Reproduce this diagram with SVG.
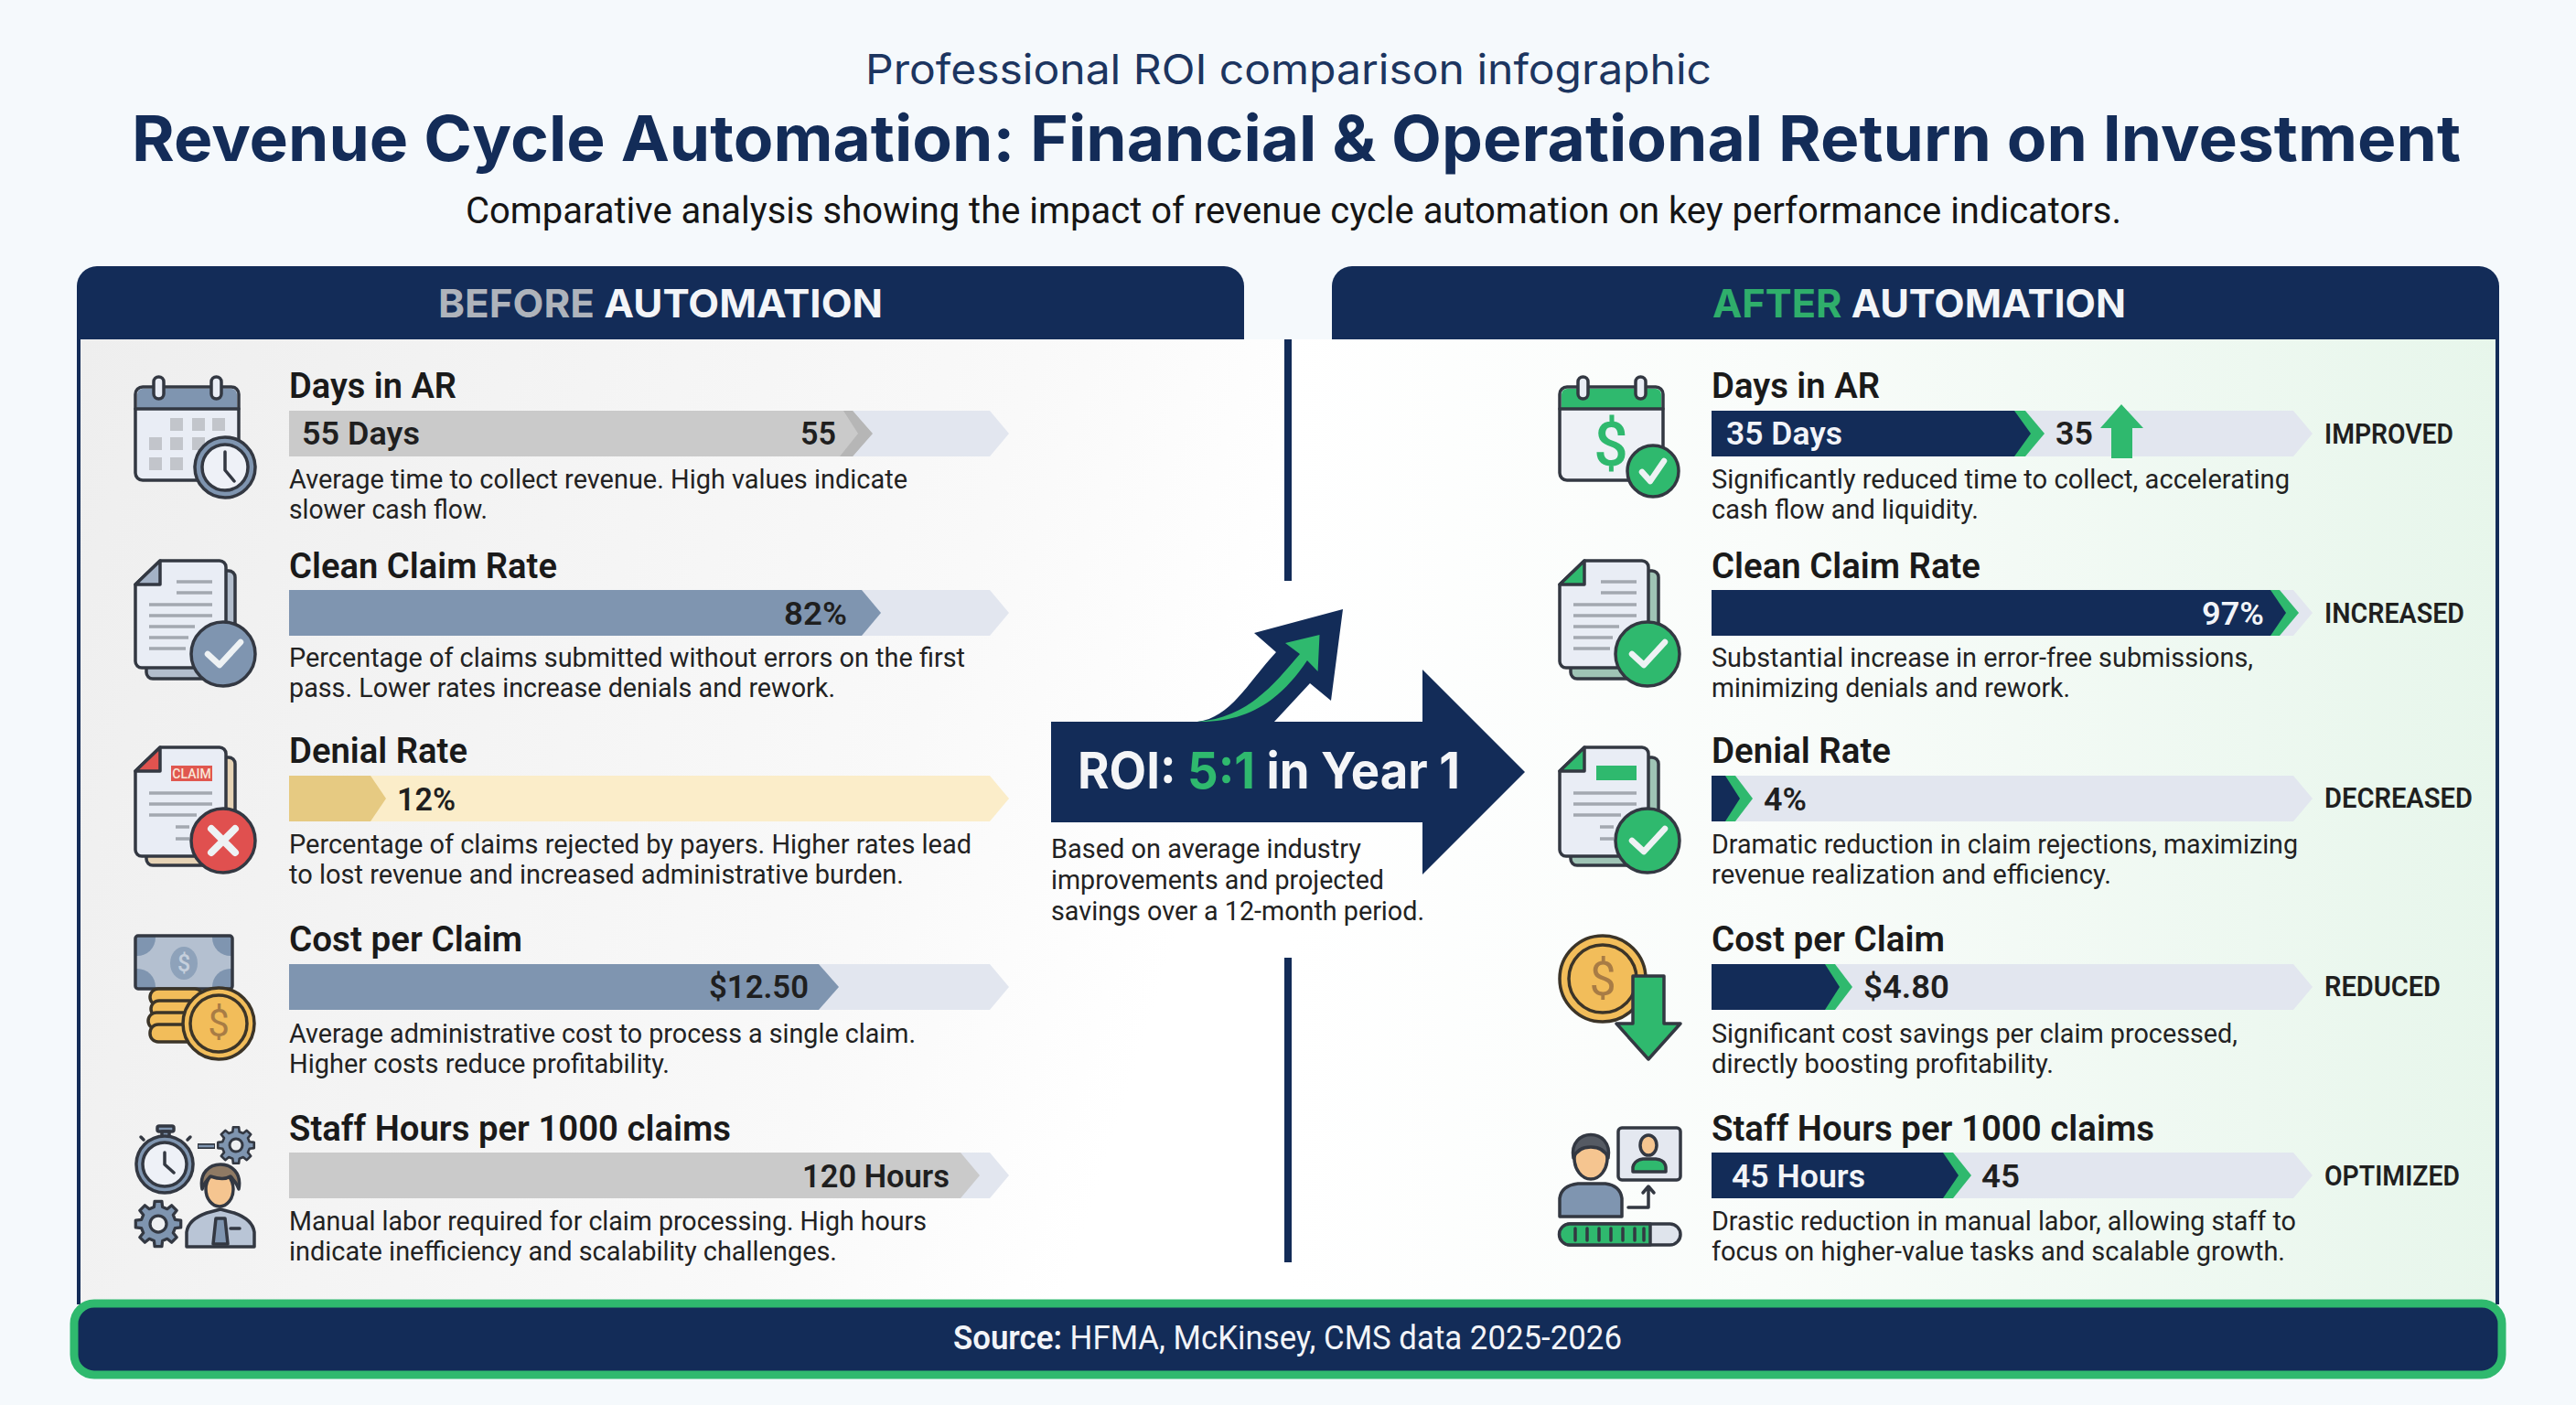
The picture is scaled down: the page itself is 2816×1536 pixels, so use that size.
<svg xmlns="http://www.w3.org/2000/svg" width="2816" height="1536" viewBox="0 0 2816 1536">
<style>
text{font-family:Roboto,"Liberation Sans",sans-serif}
.h1{font-family:Inter,"Liberation Sans",sans-serif;font-weight:700;font-size:69px;fill:#132c58}
.h0{font-family:Inter,"Liberation Sans",sans-serif;font-weight:400;font-size:45px;fill:#1c3560}
.h2{font-size:41px;fill:#151515}
.hd{font-family:Inter,"Liberation Sans",sans-serif;font-weight:700;font-size:43px;fill:#f3f5f8}
.t{font-weight:600;font-size:39px;fill:#1a1a1a}
.b{font-size:30px;fill:#222}
.v{font-weight:600;font-size:35px;fill:#1f1f1f}
.w{font-weight:600;font-size:35px;fill:#f2f4f8}
.l{font-weight:600;font-size:31px;fill:#1f1f1f}
.nv{fill:#132c58}.gr{fill:#2fb96e}.tr{fill:#e2e6ef}.sl{fill:#7f95b0}.gy{fill:#cacaca}
.ol{stroke:#333842;stroke-width:3.500;stroke-linejoin:round;stroke-linecap:round}
.ln{stroke:#a3a8b0;stroke-width:3.500;fill:none}
.ck{fill:none;stroke:#eef2f4;stroke-width:6.500;stroke-linecap:round;stroke-linejoin:round}
.pg{fill:#e9edf5}
.gd{fill:#7f95b0;stroke:#333842;stroke-width:13;stroke-linejoin:round}
.cn{stroke:#3b3428;stroke-width:3.500}
</style>
<defs>
<linearGradient id="lg" x1="0" y1="0" x2="1" y2="0.25"><stop offset="0" stop-color="#eeeeee"/><stop offset="0.75" stop-color="#f9f9f9"/><stop offset="1" stop-color="#ffffff"/></linearGradient>
<linearGradient id="rg" x1="0" y1="0" x2="1" y2="0"><stop offset="0" stop-color="#ffffff"/><stop offset="0.4" stop-color="#f9fcfa"/><stop offset="1" stop-color="#e7f6eb"/></linearGradient>
<polygon id="trackL" points="316,0 1082,0 1103,25 1082,50 316,50"/>
<polygon id="trackR" points="1871,0 2507,0 2528,25 2507,50 1871,50"/>
<path id="lines" class="ln" d="M193,636H232M193,648H232M163,661H232M163,673H232M163,685H213M163,697H206M163,709H203"/>
<path id="lines2" class="ln" d="M163,867H232M163,879H232M163,891H215M192,904H207M192,917H207"/>
<polygon id="gear" points="73.700,-18.400 98.800,-15.600 98.800,15.600 73.700,18.400 65.100,39.100 80.900,58.800 58.800,80.900 39.100,65.100 18.400,73.700 15.600,98.800 -15.600,98.800 -18.400,73.700 -39.100,65.100 -58.800,80.900 -80.900,58.800 -65.100,39.100 -73.700,18.400 -98.800,15.600 -98.800,-15.600 -73.700,-18.400 -65.100,-39.100 -80.900,-58.800 -58.800,-80.900 -39.100,-65.100 -18.400,-73.700 -15.600,-98.800 15.600,-98.800 18.400,-73.700 39.100,-65.100 58.800,-80.900 80.900,-58.800 65.100,-39.100"/>
<clipPath id="noteClip"><rect x="149" y="1024" width="104" height="56"/></clipPath>
</defs>
<rect width="2816" height="1536" fill="#f5f9fc"/>

<g id="header">
<text class="h0" x="946" y="92" textLength="925" lengthAdjust="spacingAndGlyphs">Professional ROI comparison infographic</text>
<text class="h1" x="144" y="176" textLength="2546" lengthAdjust="spacingAndGlyphs">Revenue Cycle Automation: Financial &amp; Operational Return on Investment</text>
<text class="h2" x="509" y="244" textLength="1810" lengthAdjust="spacingAndGlyphs">Comparative analysis showing the impact of revenue cycle automation on key performance indicators.</text>
</g>

<g id="panel-before">
<rect x="84" y="371" width="1324" height="1060" fill="url(#lg)"/>
<path class="nv" d="M84,371V313a22,22 0 0 1 22,-22H1338a22,22 0 0 1 22,22V371Z"/>
<rect class="nv" x="84" y="371" width="4" height="1055"/>
<text class="hd" x="479" y="347" textLength="486" lengthAdjust="spacingAndGlyphs"><tspan fill="#aeb3bb">BEFORE</tspan> AUTOMATION</text>
</g>
<g id="panel-after">
<rect x="1408" y="371" width="1324" height="1060" fill="url(#rg)"/>
<path class="nv" d="M1456,371V313a22,22 0 0 1 22,-22H2710a22,22 0 0 1 22,22V371Z"/>
<rect class="nv" x="2728" y="371" width="4" height="1055"/>
<text class="hd" x="1872" y="347" textLength="452" lengthAdjust="spacingAndGlyphs"><tspan fill="#2fae6b">AFTER</tspan> AUTOMATION</text>
</g>

<g id="connectors">
<rect class="nv" x="1404" y="371" width="8" height="264"/>
<rect class="nv" x="1404" y="1047" width="8" height="333"/>
</g>

<!-- BEFORE rows -->
<g id="before-days">
<rect class="pg ol" x="148" y="423" width="113" height="102" rx="8"/>
<path class="sl" d="M150,447V431a6,6 0 0 1 6,-6H253a6,6 0 0 1 6,6V447Z"/>
<path class="ol" d="M148,447H261" fill="none"/>
<rect x="168" y="412" width="11" height="24" rx="5.500" fill="#e9edf5" class="ol"/><rect x="231" y="412" width="11" height="24" rx="5.500" fill="#e9edf5" class="ol"/>
<path fill="#c2c5cb" d="M186,457h14v14h-14zM210,457h14v14h-14zM232,457h14v14h-14zM163,478h14v14h-14zM186,478h14v14h-14zM210,478h14v14h-14zM163,500h14v14h-14zM186,500h14v14h-14z"/>
<circle cx="246" cy="511" r="33" fill="#7f95b0" class="ol"/><circle cx="246" cy="511" r="25" fill="#eef1f7" class="ol"/>
<path class="ol" fill="none" d="M246,494V514L256,526"/>
<text class="t" x="316" y="435" textLength="183" lengthAdjust="spacingAndGlyphs">Days in AR</text>
<g transform="translate(0,449)"><use href="#trackL" class="tr"/><polygon class="gy" points="316,0 932,0 953,25 932,50 316,50"/><polygon fill="#b6b6b6" points="922,0 932,0 954,25 932,50 918,50 938,25"/></g>
<text class="v" x="330" y="486" textLength="129" lengthAdjust="spacingAndGlyphs">55 Days</text>
<text class="v" x="875" y="486" textLength="39" lengthAdjust="spacingAndGlyphs">55</text>
<text class="b" x="316" y="534" textLength="676" lengthAdjust="spacingAndGlyphs">Average time to collect revenue. High values indicate</text>
<text class="b" x="316" y="567" textLength="217" lengthAdjust="spacingAndGlyphs">slower cash flow.</text>
</g>

<g id="before-clean">
<rect x="160" y="624" width="97" height="118" rx="7" fill="#b2bdcc" class="ol"/>
<path class="pg ol" d="M175,613H240a7,7 0 0 1 7,7V723a7,7 0 0 1 -7,7H155a7,7 0 0 1 -7,-7V639Z"/>
<path class="ol" fill="#a4b2c6" d="M175,613V639H148Z"/>
<use href="#lines"/>
<circle cx="244" cy="715" r="35" class="sl ol"/>
<path class="ck" d="M227,715L240,727L263,702"/>
<text class="t" x="316" y="632" textLength="293" lengthAdjust="spacingAndGlyphs">Clean Claim Rate</text>
<g transform="translate(0,645)"><use href="#trackL" class="tr"/><polygon class="sl" points="316,0 942,0 963,25 942,50 316,50"/></g>
<text class="v" x="857" y="683" textLength="69" lengthAdjust="spacingAndGlyphs">82%</text>
<text class="b" x="316" y="729" textLength="739" lengthAdjust="spacingAndGlyphs">Percentage of claims submitted without errors on the first</text>
<text class="b" x="316" y="762" textLength="597" lengthAdjust="spacingAndGlyphs">pass. Lower rates increase denials and rework.</text>
</g>

<g id="before-denial">
<rect x="160" y="828" width="97" height="118" rx="7" fill="#e6d3b5" class="ol"/>
<path class="pg ol" d="M175,817H240a7,7 0 0 1 7,7V929a7,7 0 0 1 -7,7H155a7,7 0 0 1 -7,-7V843Z"/>
<path class="ol" fill="#e0534f" d="M175,817V843H148Z"/>
<rect x="187" y="837" width="45" height="17" fill="#e0574f"/>
<text x="209.500" y="850.500" text-anchor="middle" font-size="14" font-weight="500" fill="#f8e6d8">CLAIM</text>
<use href="#lines2"/>
<circle cx="244" cy="919" r="35" fill="#e0504f" class="ol"/>
<path class="ck" style="stroke-width:8" d="M231,906L257,932M257,906L231,932"/>
<text class="t" x="316" y="834" textLength="195" lengthAdjust="spacingAndGlyphs">Denial Rate</text>
<g transform="translate(0,848)"><use href="#trackL" fill="#fbedc9"/><polygon fill="#e6ca82" points="316,0 405,0 422,25 405,50 316,50"/></g>
<text class="v" x="434" y="886" textLength="64" lengthAdjust="spacingAndGlyphs">12%</text>
<text class="b" x="316" y="933" textLength="746" lengthAdjust="spacingAndGlyphs">Percentage of claims rejected by payers. Higher rates lead</text>
<text class="b" x="316" y="966" textLength="672" lengthAdjust="spacingAndGlyphs">to lost revenue and increased administrative burden.</text>
</g>

<g id="before-cost">
<rect x="148" y="1023" width="106" height="58" rx="3" fill="#b4c0d0"/>
<g clip-path="url(#noteClip)" fill="#7f95b0"><circle cx="150" cy="1025" r="20"/><circle cx="252" cy="1025" r="20"/><circle cx="150" cy="1079" r="20"/><circle cx="252" cy="1079" r="20"/></g>
<rect x="148" y="1023" width="106" height="58" rx="3" fill="none" class="ol"/>
<ellipse cx="201" cy="1053" rx="15" ry="18" fill="#8ea2ba"/>
<text x="201" y="1062" text-anchor="middle" font-size="25" font-weight="500" fill="#c5cfdc">$</text>
<g class="cn" fill="#f2bd5a"><rect x="164" y="1081" width="58" height="18" rx="9"/><rect x="165" y="1094" width="58" height="18" rx="9"/><rect x="162" y="1107" width="58" height="18" rx="9"/><rect x="164" y="1120" width="58" height="19" rx="9"/></g>
<circle cx="239" cy="1119" r="39" fill="#f2bd5a" class="cn"/><circle cx="239" cy="1119" r="31" fill="none" class="cn"/>
<text x="239" y="1133" text-anchor="middle" font-size="42" font-weight="400" fill="#a87c45">$</text>
<text class="t" x="316" y="1040" textLength="255" lengthAdjust="spacingAndGlyphs">Cost per Claim</text>
<g transform="translate(0,1054)"><use href="#trackL" class="tr"/><polygon class="sl" points="316,0 895,0 917,25 895,50 316,50"/></g>
<text class="v" x="775" y="1091" textLength="109" lengthAdjust="spacingAndGlyphs">$12.50</text>
<text class="b" x="316" y="1140" textLength="685" lengthAdjust="spacingAndGlyphs">Average administrative cost to process a single claim.</text>
<text class="b" x="316" y="1173" textLength="416" lengthAdjust="spacingAndGlyphs">Higher costs reduce profitability.</text>
</g>

<g id="before-staff">
<rect x="172" y="1231" width="18" height="6" rx="2" class="sl ol"/><rect x="177" y="1237" width="8" height="6" class="sl ol"/>
<path class="ol" fill="none" d="M157,1246L154,1243M205,1246L208,1243"/>
<circle cx="180" cy="1273" r="31" fill="#7f95b0" class="ol"/><circle cx="180" cy="1273" r="24" fill="#eef1f7" class="ol"/>
<path class="ol" fill="none" d="M180,1260V1273L190,1282"/>
<path d="M216,1253H235" stroke="#333842" stroke-width="6"/><path d="M217,1253H234" stroke="#7f95b0" stroke-width="2.500"/>
<g transform="translate(258,1252) scale(.2)"><use href="#gear" class="gd"/><circle r="35" fill="#eef0f2" stroke="#333842" stroke-width="15"/></g>
<g transform="translate(173,1338) scale(.25)"><use href="#gear" class="gd"/><circle r="36" fill="#eef0f2" stroke="#333842" stroke-width="13"/></g>
<path class="ol" fill="#b9c5d6" d="M204,1363V1347Q206,1333 226,1326L241,1322L256,1326Q276,1333 278,1347V1363Z"/>
<path fill="#7f95b0" class="ol" d="M236,1332H246L249,1360H233Z"/>
<path class="ol" fill="none" d="M252,1343H262"/>
<ellipse cx="240" cy="1300" rx="15" ry="19" fill="#f5c590" class="ol"/>
<path fill="#8f7a64" class="ol" d="M221,1300C214,1264 268,1264 261,1300C258,1292 254,1288 252,1286C246,1290 236,1288 230,1286C226,1290 223,1294 221,1300Z"/>
<text class="t" x="316" y="1247" textLength="483" lengthAdjust="spacingAndGlyphs">Staff Hours per 1000 claims</text>
<g transform="translate(0,1260)"><use href="#trackL" class="tr"/><polygon class="gy" points="316,0 1050,0 1071,25 1050,50 316,50"/></g>
<text class="v" x="877" y="1298" textLength="161" lengthAdjust="spacingAndGlyphs">120 Hours</text>
<text class="b" x="316" y="1345" textLength="697" lengthAdjust="spacingAndGlyphs">Manual labor required for claim processing. High hours</text>
<text class="b" x="316" y="1378" textLength="599" lengthAdjust="spacingAndGlyphs">indicate inefficiency and scalability challenges.</text>
</g>

<!-- ROI -->
<g id="roi">
<path class="nv" d="M1149,789H1309C1345,785 1365,745 1395,713L1371,692L1468,666L1455,766L1432,747L1393,789H1555V732L1667,844L1555,956V899H1149Z"/>
<path class="gr" d="M1309,789C1365,785 1395,745 1421,715L1405,703L1442.500,694L1440.600,734L1429,722C1400,765 1365,790 1309,789Z"/>
<text x="1178" y="862" textLength="418" lengthAdjust="spacingAndGlyphs" style="font-family:Inter,'Liberation Sans',sans-serif;font-weight:700;font-size:55px;fill:#f4f5f7">ROI: <tspan fill="#2fb96e">5:1</tspan> in Year 1</text>
<text class="b" x="1149" y="938" textLength="339" lengthAdjust="spacingAndGlyphs">Based on average industry</text>
<text class="b" x="1149" y="972" textLength="364" lengthAdjust="spacingAndGlyphs">improvements and projected</text>
<text class="b" x="1149" y="1006" textLength="408" lengthAdjust="spacingAndGlyphs">savings over a 12-month period.</text>
</g>

<!-- AFTER rows -->
<g id="after-days">
<rect x="1705" y="423" width="113" height="102" rx="8" fill="#eef1f6" class="ol"/>
<path class="gr" d="M1707,447V431a6,6 0 0 1 6,-6H1810a6,6 0 0 1 6,6V447Z"/>
<path class="ol" fill="none" d="M1705,447H1818"/>
<rect x="1725" y="412" width="11" height="24" rx="5.500" fill="#e9edf5" class="ol"/><rect x="1788" y="412" width="11" height="24" rx="5.500" fill="#e9edf5" class="ol"/>
<text x="1761" y="509" text-anchor="middle" font-size="66" font-weight="500" fill="#2fb96e">$</text>
<circle cx="1807" cy="515" r="28" class="gr ol"/>
<path class="ck" d="M1795,516L1804,526L1819,504"/>
<text class="t" x="1871" y="435" textLength="184" lengthAdjust="spacingAndGlyphs">Days in AR</text>
<g transform="translate(0,449)"><use href="#trackR" class="tr"/><polygon class="gr" points="2202,0 2214,0 2235,25 2214,50 2202,50"/><polygon class="nv" points="1871,0 2202,0 2220,25 2202,50 1871,50"/></g>
<path class="gr" d="M2319,442L2343,468H2331V501H2308V468H2296Z"/>
<text class="w" x="1887" y="486" textLength="127" lengthAdjust="spacingAndGlyphs">35 Days</text>
<text class="v" x="2247" y="486" textLength="41" lengthAdjust="spacingAndGlyphs">35</text>
<text class="l" x="2541" y="485" textLength="141" lengthAdjust="spacingAndGlyphs">IMPROVED</text>
<text class="b" x="1871" y="534" textLength="632" lengthAdjust="spacingAndGlyphs">Significantly reduced time to collect, accelerating</text>
<text class="b" x="1871" y="567" textLength="292" lengthAdjust="spacingAndGlyphs">cash flow and liquidity.</text>
</g>

<g id="after-clean">
<rect x="1717" y="624" width="96" height="118" rx="7" fill="#9fc4b5" class="ol"/>
<path class="pg ol" d="M1732,613H1795a7,7 0 0 1 7,7V723a7,7 0 0 1 -7,7H1712a7,7 0 0 1 -7,-7V639Z"/>
<path class="gr ol" d="M1732,613V639H1705Z"/>
<use href="#lines" transform="translate(1557,0)"/>
<circle cx="1801" cy="715" r="35" class="gr ol"/>
<path class="ck" d="M1784,715L1797,727L1820,702"/>
<text class="t" x="1871" y="632" textLength="294" lengthAdjust="spacingAndGlyphs">Clean Claim Rate</text>
<g transform="translate(0,645)"><use href="#trackR" class="tr"/><polygon class="gr" points="2482,0 2492,0 2513,25 2492,50 2482,50"/><polygon class="nv" points="1871,0 2482,0 2499,25 2482,50 1871,50"/></g>
<text class="w" x="2407" y="683" textLength="68" lengthAdjust="spacingAndGlyphs">97%</text>
<text class="l" x="2541" y="681" textLength="153" lengthAdjust="spacingAndGlyphs">INCREASED</text>
<text class="b" x="1871" y="729" textLength="592" lengthAdjust="spacingAndGlyphs">Substantial increase in error-free submissions,</text>
<text class="b" x="1871" y="762" textLength="392" lengthAdjust="spacingAndGlyphs">minimizing denials and rework.</text>
</g>

<g id="after-denial">
<rect x="1717" y="828" width="96" height="118" rx="7" fill="#9fc4b5" class="ol"/>
<path class="pg ol" d="M1732,817H1795a7,7 0 0 1 7,7V929a7,7 0 0 1 -7,7H1712a7,7 0 0 1 -7,-7V843Z"/>
<path class="gr ol" d="M1732,817V843H1705Z"/>
<rect class="gr" x="1745" y="837" width="44" height="16"/>
<use href="#lines2" transform="translate(1557,0)"/>
<circle cx="1801" cy="919" r="35" class="gr ol"/>
<path class="ck" d="M1784,919L1797,931L1820,906"/>
<text class="t" x="1871" y="834" textLength="196" lengthAdjust="spacingAndGlyphs">Denial Rate</text>
<g transform="translate(0,848)"><use href="#trackR" class="tr"/><polygon class="gr" points="1886,0 1897,0 1916,25 1897,50 1886,50"/><polygon class="nv" points="1871,0 1886,0 1902,25 1886,50 1871,50"/></g>
<text class="v" x="1928" y="886" textLength="47" lengthAdjust="spacingAndGlyphs">4%</text>
<text class="l" x="2541" y="883" textLength="162" lengthAdjust="spacingAndGlyphs">DECREASED</text>
<text class="b" x="1871" y="933" textLength="641" lengthAdjust="spacingAndGlyphs">Dramatic reduction in claim rejections, maximizing</text>
<text class="b" x="1871" y="966" textLength="437" lengthAdjust="spacingAndGlyphs">revenue realization and efficiency.</text>
</g>

<g id="after-cost">
<circle cx="1752" cy="1070" r="47" fill="#f2bd5a" class="cn"/><circle cx="1752" cy="1070" r="37" fill="none" class="cn"/>
<text x="1752" y="1088" text-anchor="middle" font-size="52" font-weight="400" fill="#a87c45">$</text>
<path class="gr ol" d="M1785,1067H1819V1119H1837L1802,1158L1767,1119H1785Z"/>
<text class="t" x="1871" y="1040" textLength="255" lengthAdjust="spacingAndGlyphs">Cost per Claim</text>
<g transform="translate(0,1054)"><use href="#trackR" class="tr"/><polygon class="gr" points="1995,0 2006,0 2025,25 2006,50 1995,50"/><polygon class="nv" points="1871,0 1995,0 2011,25 1995,50 1871,50"/></g>
<text class="v" x="2037" y="1091" textLength="94" lengthAdjust="spacingAndGlyphs">$4.80</text>
<text class="l" x="2541" y="1089" textLength="127" lengthAdjust="spacingAndGlyphs">REDUCED</text>
<text class="b" x="1871" y="1140" textLength="575" lengthAdjust="spacingAndGlyphs">Significant cost savings per claim processed,</text>
<text class="b" x="1871" y="1173" textLength="374" lengthAdjust="spacingAndGlyphs">directly boosting profitability.</text>
</g>

<g id="after-staff">
<path class="ol" fill="#7f95b0" d="M1705,1330V1310Q1707,1296 1725,1294H1755Q1771,1296 1773,1310V1330Z"/>
<ellipse cx="1739" cy="1266" rx="18" ry="23" fill="#f5c590" class="ol"/>
<path fill="#555a63" class="ol" d="M1720,1266C1714,1232 1764,1232 1758,1266C1755,1258 1748,1254 1739,1254C1730,1254 1723,1258 1720,1266Z"/>
<rect x="1769" y="1233" width="68" height="57" rx="4" fill="#e4e8f0" class="ol"/>
<ellipse cx="1802" cy="1252" rx="9" ry="11" fill="#f5c590" class="ol"/>
<path class="gr ol" d="M1785,1281V1276Q1787,1268 1796,1267H1810Q1820,1268 1821,1276V1281Z"/>
<path class="ol" fill="none" d="M1780,1320H1802V1298M1796,1304L1802,1297L1808,1304"/>
<rect x="1705" y="1338" width="132" height="23" rx="11.500" fill="#dfe4ec" class="ol"/>
<path class="gr ol" d="M1716,1338H1804V1361H1716A11.500,11.500 0 0 1 1716,1338Z"/>
<path class="ol" fill="none" d="M1722,1343V1356M1735,1343V1356M1748,1343V1356M1761,1343V1356M1774,1343V1356M1787,1343V1356M1797,1343V1356"/>
<text class="t" x="1871" y="1247" textLength="484" lengthAdjust="spacingAndGlyphs">Staff Hours per 1000 claims</text>
<g transform="translate(0,1260)"><use href="#trackR" class="tr"/><polygon class="gr" points="2124,0 2135,0 2155,25 2135,50 2124,50"/><polygon class="nv" points="1871,0 2124,0 2141,25 2124,50 1871,50"/></g>
<text class="w" x="1893" y="1298" textLength="146" lengthAdjust="spacingAndGlyphs">45 Hours</text>
<text class="v" x="2166" y="1298" textLength="42" lengthAdjust="spacingAndGlyphs">45</text>
<text class="l" x="2541" y="1296" textLength="148" lengthAdjust="spacingAndGlyphs">OPTIMIZED</text>
<text class="b" x="1871" y="1345" textLength="639" lengthAdjust="spacingAndGlyphs">Drastic reduction in manual labor, allowing staff to</text>
<text class="b" x="1871" y="1378" textLength="627" lengthAdjust="spacingAndGlyphs">focus on higher-value tasks and scalable growth.</text>
</g>

<g id="source">
<rect x="81" y="1425" width="2654" height="78" rx="22" class="nv" stroke="#2fb96e" stroke-width="9"/>
<text x="1042" y="1475" textLength="731" lengthAdjust="spacingAndGlyphs" font-size="36" fill="#f2f4f8"><tspan font-weight="600">Source:</tspan> HFMA, McKinsey, CMS data 2025-2026</text>
</g>
</svg>
